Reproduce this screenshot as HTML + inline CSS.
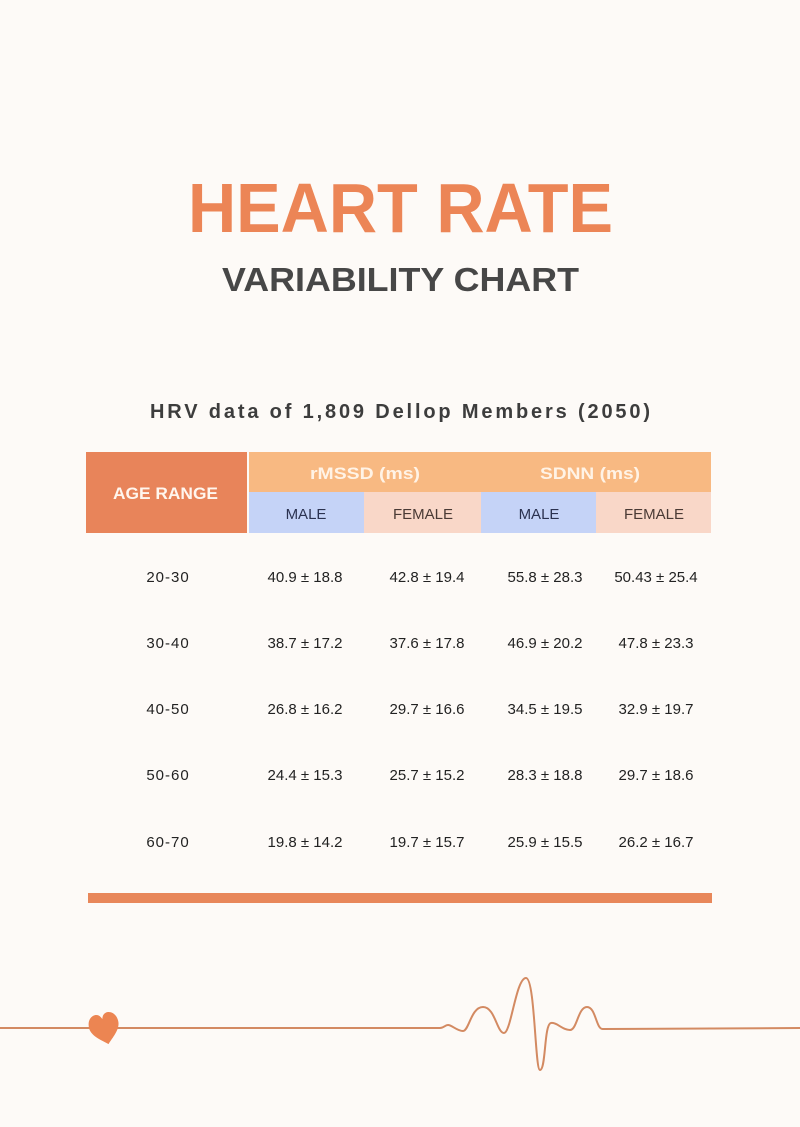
<!DOCTYPE html>
<html>
<head>
<meta charset="utf-8">
<style>
  html, body { margin:0; padding:0; background:#fdfaf7; }
  body { width:800px; height:1127px; overflow:hidden; }
  svg { display:block; }
</style>
</head>
<body>
<svg width="800" height="1127" viewBox="0 0 800 1127" xmlns="http://www.w3.org/2000/svg">
  <rect x="0" y="0" width="800" height="1127" fill="#fdfaf7"/>

  <!-- Title -->
  <text x="188" y="232" font-family="Liberation Sans, sans-serif" font-weight="bold" font-size="70" fill="#ec8556" textLength="425" lengthAdjust="spacingAndGlyphs">HEART RATE</text>
  <text x="222" y="291" font-family="Liberation Sans, sans-serif" font-weight="bold" font-size="33" fill="#474747" textLength="357" lengthAdjust="spacingAndGlyphs">VARIABILITY CHART</text>

  <!-- Subtitle -->
  <text x="150" y="418" font-family="Liberation Sans, sans-serif" font-weight="bold" font-size="20" fill="#3d3d3d" textLength="500" lengthAdjust="spacing">HRV data of 1,809 Dellop Members (2050)</text>

  <!-- Table header -->
  <rect x="86" y="452" width="161" height="81" fill="#e8845a"/>
  <rect x="249" y="452" width="462" height="40" fill="#f8b982"/>
  <rect x="249" y="492" width="115" height="41" fill="#c5d3f7"/>
  <rect x="364" y="492" width="117" height="41" fill="#f9d7c8"/>
  <rect x="481" y="492" width="115" height="41" fill="#c5d3f7"/>
  <rect x="596" y="492" width="115" height="41" fill="#f9d7c8"/>

  <text x="113" y="499" font-family="Liberation Sans, sans-serif" font-weight="bold" font-size="17" fill="#fff6ee" textLength="105" lengthAdjust="spacingAndGlyphs">AGE RANGE</text>
  <text x="310" y="479" font-family="Liberation Sans, sans-serif" font-weight="bold" font-size="17" fill="#fff3e6" textLength="110" lengthAdjust="spacingAndGlyphs">rMSSD (ms)</text>
  <text x="540" y="479" font-family="Liberation Sans, sans-serif" font-weight="bold" font-size="17" fill="#fff3e6" textLength="100" lengthAdjust="spacingAndGlyphs">SDNN (ms)</text>

  <g font-family="Liberation Sans, sans-serif" font-size="15" text-anchor="middle">
    <text x="306" y="519" fill="#2b3250">MALE</text>
    <text x="423" y="519" fill="#4a3a35">FEMALE</text>
    <text x="539" y="519" fill="#2b3250">MALE</text>
    <text x="654" y="519" fill="#4a3a35">FEMALE</text>
  </g>

  <!-- Data rows -->
  <g font-family="Liberation Sans, sans-serif" font-size="15" text-anchor="middle" fill="#222222">
    <text x="168" y="582" letter-spacing="1">20-30</text>
    <text x="305" y="582">40.9 ± 18.8</text>
    <text x="427" y="582">42.8 ± 19.4</text>
    <text x="545" y="582">55.8 ± 28.3</text>
    <text x="656" y="582">50.43 ± 25.4</text>

    <text x="168" y="648" letter-spacing="1">30-40</text>
    <text x="305" y="648">38.7 ± 17.2</text>
    <text x="427" y="648">37.6 ± 17.8</text>
    <text x="545" y="648">46.9 ± 20.2</text>
    <text x="656" y="648">47.8 ± 23.3</text>

    <text x="168" y="714" letter-spacing="1">40-50</text>
    <text x="305" y="714">26.8 ± 16.2</text>
    <text x="427" y="714">29.7 ± 16.6</text>
    <text x="545" y="714">34.5 ± 19.5</text>
    <text x="656" y="714">32.9 ± 19.7</text>

    <text x="168" y="780" letter-spacing="1">50-60</text>
    <text x="305" y="780">24.4 ± 15.3</text>
    <text x="427" y="780">25.7 ± 15.2</text>
    <text x="545" y="780">28.3 ± 18.8</text>
    <text x="656" y="780">29.7 ± 18.6</text>

    <text x="168" y="847" letter-spacing="1">60-70</text>
    <text x="305" y="847">19.8 ± 14.2</text>
    <text x="427" y="847">19.7 ± 15.7</text>
    <text x="545" y="847">25.9 ± 15.5</text>
    <text x="656" y="847">26.2 ± 16.7</text>
  </g>

  <!-- Bottom bar -->
  <rect x="88" y="893" width="624" height="10" fill="#e8875a"/>

  <!-- ECG line -->
  <path d="M0 1028 L440 1028
           C444 1028 445 1025 448 1025
           C452 1025 457 1031 463 1031
           C469 1031 471 1007 483 1007
           C495 1007 497 1033 504 1033
           C511 1033 516 978 526 978
           C535 978 535 1070 540 1070
           C546 1070 544 1024 551 1023
           C557 1022 562 1030 570 1030
           C577 1030 578 1007 587 1007
           C596 1007 596 1030 603 1029
           L800 1028"
        fill="none" stroke="#d38a62" stroke-width="2" stroke-linejoin="round" stroke-linecap="round"/>

  <!-- Heart -->
  <g transform="translate(105 1030) rotate(-14) scale(1.0 1.12)">
    <path d="M0 13 C-4 9 -15 3 -15 -5 C-15 -12 -10 -15 -6.5 -15 C-3 -15 -1 -13 0 -10 C1 -13 3 -15 6.5 -15 C10 -15 15 -12 15 -5 C15 3 4 9 0 13 Z" fill="#ec8552"/>
  </g>
</svg>
</body>
</html>
